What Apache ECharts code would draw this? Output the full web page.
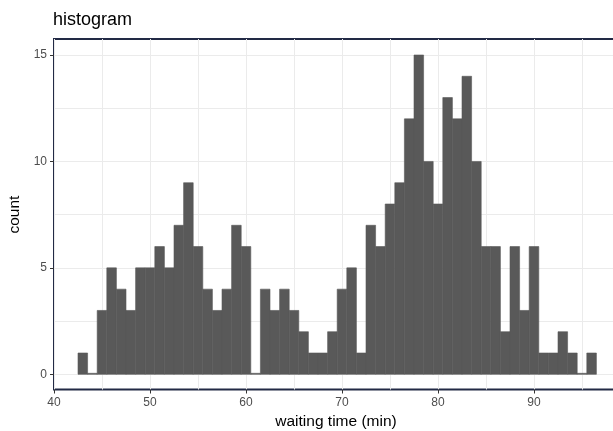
<!DOCTYPE html>
<html>
<head>
<meta charset="utf-8">
<title>histogram</title>
<script src="https://cdn.jsdelivr.net/npm/echarts@6/dist/echarts.min.js"></script>
<style>
  html, body { margin: 0; padding: 0; background: #fff; }
  #main { width: 613px; height: 431px; }
</style>
</head>
<body>
<div id="main"></div>
<script>
// bin centres (binwidth = 1) and counts
var binCenters = [43,44,45,46,47,48,49,50,51,52,53,54,55,56,57,58,59,60,61,62,63,64,65,66,67,68,69,
  70,71,72,73,74,75,76,77,78,79,80,81,82,83,84,85,86,87,88,89,90,91,92,93,94,95,96];
var binCounts = [1,0,3,5,4,3,5,5,6,5,7,9,6,4,3,4,7,6,0,4,3,4,3,2,1,1,2,
  4,5,1,7,6,8,9,12,15,10,8,13,12,14,10,6,6,2,6,3,6,1,1,2,1,0,1];
var xTicks = [40, 50, 60, 70, 80, 90];
var yTicks = [0, 5, 10, 15];

var navy = '#222a45';
var gridColor = '#ebebeb';
var font = 'Liberation Sans, Arial, sans-serif';

var chart = echarts.init(document.getElementById('main'));

var data = [];
for (var i = 0; i < binCenters.length; i++) {
  data.push([binCenters[i], binCounts[i]]);
}

var xMin = xTicks[0];
var xMax = 98.75;

var option = {
  animation: false,
  title: {
    text: 'histogram',
    left: 53,
    top: 11,
    padding: 0,
    textStyle: { fontFamily: font, fontSize: 18, fontWeight: 'normal', color: '#000' }
  },
  grid: [
    // panel: frame + vertical grid lines, covers the expanded range
    { left: 54, right: -5, top: 39, bottom: 41.5, outerBoundsMode: 'none', containLabel: false,
      show: true, borderColor: navy, borderWidth: 2, backgroundColor: 'transparent' },
    // data area: 0..15
    { left: 54, right: -5, top: 55, bottom: 56.7, outerBoundsMode: 'none', containLabel: false }
  ],
  xAxis: [
    {
      gridIndex: 0, type: 'value', position: 'bottom', min: xMin, max: xMax, interval: 5,
      axisLine: { show: false }, axisTick: { show: false }, axisLabel: { show: false },
      splitLine: { show: true, lineStyle: { color: gridColor, width: 1 } }
    },
    {
      gridIndex: 0, type: 'value', position: 'bottom', min: xMin, max: xMax, interval: 10,
      axisLine: { show: false },
      axisTick: { show: true, length: 4, lineStyle: { color: '#333' } },
      axisLabel: {
        margin: 7, color: '#4d4d4d', fontFamily: font, fontSize: 12,
        formatter: function (v) { return xTicks.indexOf(v) >= 0 ? String(v) : ''; }
      },
      splitLine: { show: false },
      name: 'waiting time (min)', nameLocation: 'middle', nameGap: 22,
      nameTextStyle: { fontFamily: font, fontSize: 15.5, color: '#000' }
    },
    {
      gridIndex: 1, type: 'value', position: 'bottom', min: xMin, max: xMax, show: false
    }
  ],
  yAxis: [
    { gridIndex: 0, type: 'value', position: 'left', min: -0.75, max: 15.75, show: false, splitLine: { show: false } },
    {
      gridIndex: 1, type: 'value', position: 'left', min: 0, max: 15, interval: 2.5,
      axisLine: { show: false }, axisTick: { show: false }, axisLabel: { show: false },
      splitLine: { show: true, lineStyle: { color: gridColor, width: 1 } }
    },
    {
      gridIndex: 1, type: 'value', position: 'left', min: 0, max: 15, interval: 5,
      axisLine: { show: false },
      axisTick: { show: true, length: 4, lineStyle: { color: '#333' } },
      axisLabel: {
        margin: 7, color: '#4d4d4d', fontFamily: font, fontSize: 12,
        formatter: function (v) { return yTicks.indexOf(v) >= 0 ? String(v) : ''; }
      },
      splitLine: { show: false },
      name: 'count', nameLocation: 'middle', nameGap: 24, nameRotate: 90,
      nameTextStyle: { fontFamily: font, fontSize: 15.5, color: '#000' }
    }
  ],
  series: [
    {
      type: 'custom',
      xAxisIndex: 2,
      yAxisIndex: 1,
      data: data,
      z: 5,
      renderItem: function (params, api) {
        var x = api.value(0);
        var n = api.value(1);
        var p0 = api.coord([x - 0.5, n]);
        var p1 = api.coord([x + 0.5, 0]);
        var h = p1[1] - p0[1];
        if (h < 1) h = 1; // empty bins still show a hairline
        return {
          type: 'rect',
          shape: { x: p0[0], y: p1[1] - h, width: p1[0] - p0[0], height: h },
          style: { fill: '#595959', stroke: '#595959', lineWidth: 0.6 }
        };
      }
    }
  ]
};

chart.setOption(option);
</script>
</body>
</html>
